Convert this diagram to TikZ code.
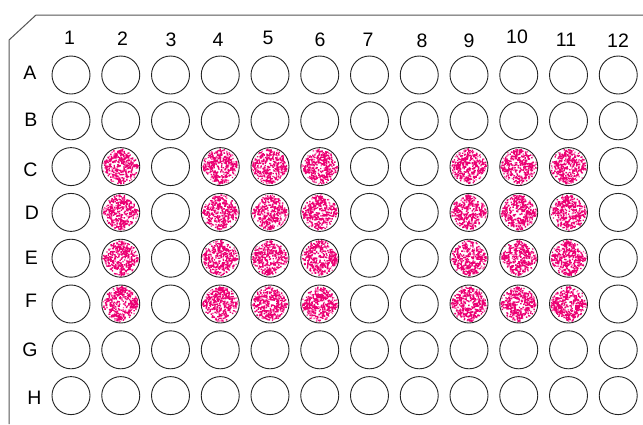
\documentclass[tikz,border=0pt]{standalone}
\usepackage{fontspec}
\setmainfont{Liberation Sans}
\definecolor{plateline}{RGB}{85,85,85}
\definecolor{wellline}{RGB}{35,35,35}
\definecolor{pinkA}{RGB}{235,0,115}
\definecolor{pinkB}{RGB}{255,90,170}
\begin{document}
\begin{tikzpicture}[x=1pt,y=-1pt,
  well/.style={circle,draw=wellline,line width=0.9pt,minimum size=38pt,inner sep=0pt},
  lbl/.style={font=\fontsize{19.5}{19.5}\selectfont,inner sep=0pt,text=black}]
\useasboundingbox (0,0) rectangle (643,424);
\fill[white] (0,0) rectangle (643,424);
% plate outline
\coordinate (pl1) at (9,424);
\coordinate (pl2) at (9,40);
\coordinate (pl3) at (36,15);
\coordinate (pl4) at (643,15);
\draw[plateline,line width=1pt] (pl1) -- (pl2) -- (pl3) -- (pl4);
% pink speckle in positive wells
\pgfmathsetseed{4711}
\foreach \r in {3,...,6}{
  \foreach \c in {2,4,5,6,9,10,11}{
    \pgfmathsetmacro\cx{71+(\c-1)*49.75}
    \pgfmathsetmacro\cy{75+(\r-1)*45.8}
    \fill[pinkB] \foreach \k in {1,...,90}{ (\cx,\cy) ++({360*rnd}:{18.5*sqrt(rnd)}) ++(-0.7,-0.7) rectangle ++(1.4,1.4) };
    \fill[pinkA] \foreach \k in {1,...,300}{ (\cx,\cy) ++({360*rnd}:{17.5*(rnd)^0.6}) ++(-0.7,-0.7) rectangle ++(1.4,1.4) };
  }
}
% wells
\foreach \r/\R in {1/A,2/B,3/C,4/D,5/E,6/F,7/G,8/H}{
  \foreach \c in {1,...,12}{
    \node[well] (\R\c) at ({71+(\c-1)*49.75},{75+(\r-1)*45.8}) {};
  }
}
% column labels
\foreach \c/\x/\y in {1/69.5/37.5,2/122.5/39,3/171/39.5,4/218/40,5/268/38,6/320/39.5,7/368/39.5,8/422/40.5,9/469/40.5,10/517/37,11/566/39.5,12/618/40.5}{
  \node[lbl] (col\c) at (\x,\y) {\c};
}
% row labels
\foreach \R/\x/\y in {A/30/72.5,B/31/120,C/30.5/170,D/32/212.5,E/31.5/257.5,F/31/301,G/30/350,H/34.5/397.5}{
  \node[lbl] (row\R) at (\x,\y) {\R};
}
\end{tikzpicture}
\end{document}
